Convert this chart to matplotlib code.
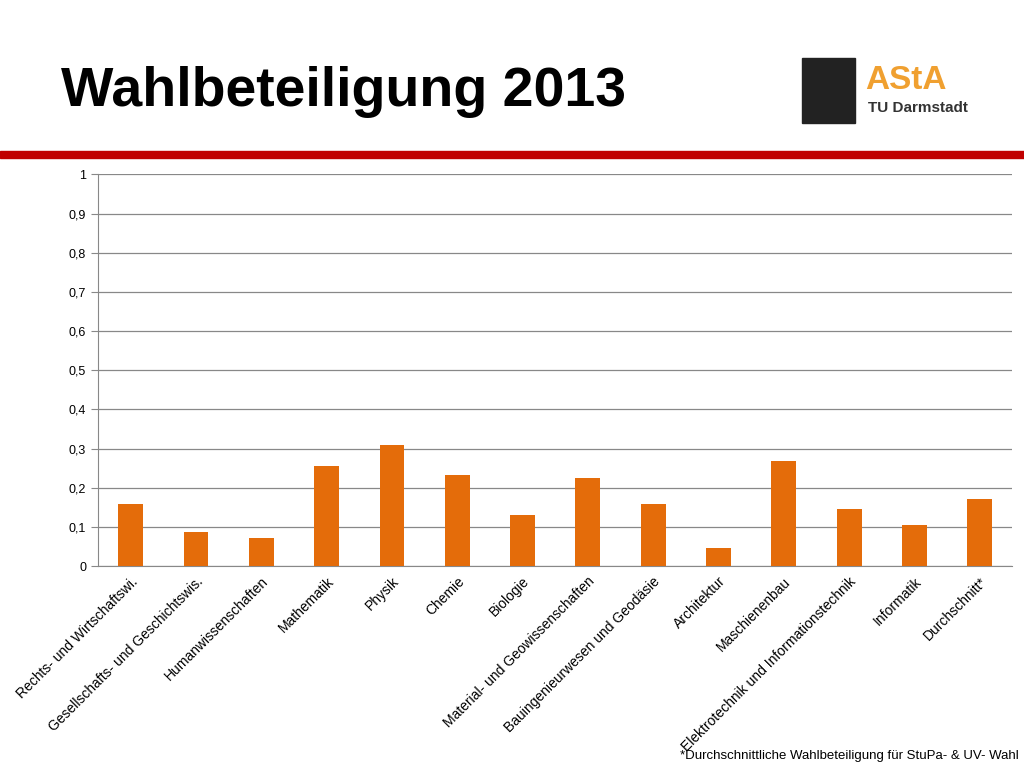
import matplotlib
matplotlib.use("Agg")
import matplotlib.pyplot as plt
from matplotlib.patches import Rectangle

plt.rcParams["font.family"] = "Liberation Sans"

categories = ["Rechts- und Wirtschaftswi.", "Gesellschafts- und Geschichtswis.", "Humanwissenschaften",
              "Mathematik", "Physik", "Chemie", "Biologie", "Material- und Geowissenschaften",
              "Bauingenieurwesen und Geodäsie", "Architektur", "Maschienenbau",
              "Elektrotechnik und Informationstechnik", "Informatik", "Durchschnitt*"]
values = [0.158, 0.087, 0.071, 0.255, 0.309, 0.232, 0.130, 0.224, 0.158, 0.046, 0.268, 0.145, 0.105, 0.171]
yticks = [0, 0.1, 0.2, 0.3, 0.4, 0.5, 0.6, 0.7, 0.8, 0.9, 1]
ylabels = ["0", "0,1", "0,2", "0,3", "0,4", "0,5", "0,6", "0,7", "0,8", "0,9", "1"]

fig = plt.figure(figsize=(10.24, 7.68), dpi=100)
fig.text(0.06, 0.88, "Wahlbeteiligung 2013", fontsize=40, fontweight="bold", va="center")
fig.patches.append(Rectangle((0, 0.794), 1, 0.009, transform=fig.transFigure, color="#C00000"))
fig.text(0.845, 0.895, "AStA", fontsize=24, fontweight="bold", color="#F0A030", va="center")
fig.text(0.848, 0.86, "TU Darmstadt", fontsize=11, fontweight="bold", color="#333333", va="center")
fig.patches.append(Rectangle((0.783, 0.84), 0.052, 0.085, transform=fig.transFigure, color="#222222"))

ax = fig.add_axes([0.0957, 0.263, 0.893, 0.510])
x = range(len(categories))
ax.bar(x, values, width=0.38, color="#E46C0A", zorder=3)
ax.set_ylim(0, 1)
ax.set_xlim(-0.5, len(categories) - 0.5)
ax.set_yticks(yticks)
ax.set_yticklabels(ylabels, fontsize=9)
ax.yaxis.grid(True, color="#888888", linewidth=0.9, zorder=0)
ax.set_xticks(list(x))
ax.set_xticklabels(categories, rotation=45, ha="right", rotation_mode="anchor", fontsize=10)
ax.tick_params(axis="y", length=5, color="#888888")
ax.tick_params(axis="x", length=0, pad=6)
for s in ["top", "right"]:
    ax.spines[s].set_visible(False)
ax.spines["left"].set_color("#888888")
ax.spines["bottom"].set_color("#888888")

fig.text(0.995, 0.012, "*Durchschnittliche Wahlbeteiligung für StuPa- & UV- Wahl", fontsize=9.5, ha="right")
fig.savefig("out.png", dpi=100)
